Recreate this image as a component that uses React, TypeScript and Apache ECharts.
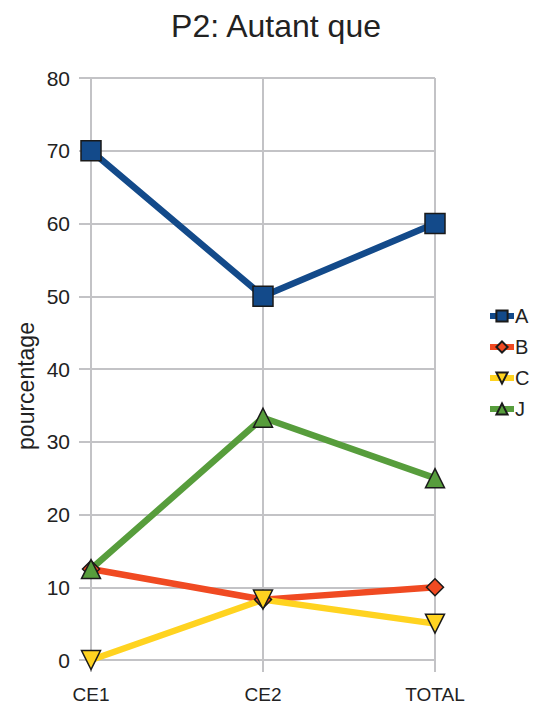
import React, { useEffect, useRef } from "react";
import * as echarts from "echarts";

const categories = ["CE1", "CE2", "TOTAL"];
const seriesA = [70, 50, 60];
const seriesB = [12.5, 8.3, 10];
const seriesC = [0, 8.3, 5];
const seriesJ = [12.5, 33.3, 25];
const yTicks = { min: 0, max: 80, interval: 10 };

const FONT = "Liberation Sans, Arial, sans-serif";
const GRID_COLOR = "#c3c3c6";

export default function App() {
  const ref = useRef<HTMLDivElement>(null);
  useEffect(() => {
    if (!ref.current) return;
    const chart = echarts.init(ref.current, null, { renderer: "svg" });
    const mk = (name: string, data: number[], color: string, symbol: string, size: number, rotate = 0) => ({
      name,
      type: "line",
      data,
      symbol,
      symbolSize: size,
      symbolRotate: rotate,
      lineStyle: { color, width: 6.5 },
      itemStyle: { color, borderColor: "#1a1a1a", borderWidth: 1.5 },
      z: 3,
    });
    chart.setOption({
      animation: false,
      backgroundColor: "#ffffff",
      textStyle: { fontFamily: FONT },
      grid: { left: 91, right: 104, top: 78, bottom: 51 },
      graphic: [
        {
          type: "text",
          x: 276,
          y: 10,
          style: {
            text: "P2: Autant que",
            fontSize: 32,
            fontFamily: FONT,
            fill: "#222",
            textAlign: "center",
            textVerticalAlign: "top",
          },
        },
        {
          type: "text",
          x: 26,
          y: 386,
          rotation: Math.PI / 2,
          style: {
            text: "pourcentage",
            fontSize: 23,
            fontFamily: FONT,
            fill: "#222",
            textAlign: "center",
            textVerticalAlign: "middle",
          },
        },
      ],
      legend: {
        orient: "vertical",
        left: 482,
        top: 301,
        itemWidth: 24,
        itemHeight: 14,
        itemGap: 11,
        lineStyle: { width: 6 },
        textStyle: { fontSize: 20, fontFamily: FONT, color: "#222", padding: [0, 0, 0, -4] },
        data: ["A", "B", "C", "J"],
      },
      xAxis: {
        type: "category",
        data: categories,
        boundaryGap: false,
        axisLine: { lineStyle: { color: GRID_COLOR, width: 2 } },
        axisTick: { show: true, length: 12, inside: false, lineStyle: { color: GRID_COLOR, width: 2 } },
        splitLine: { show: true, lineStyle: { color: GRID_COLOR, width: 2 } },
        axisLabel: { fontSize: 19, color: "#222", margin: 25, fontFamily: FONT },
      },
      yAxis: {
        type: "value",
        min: yTicks.min,
        max: yTicks.max,
        interval: yTicks.interval,
        axisLine: { show: true, lineStyle: { color: GRID_COLOR, width: 2 } },
        axisTick: { show: true, length: 12, lineStyle: { color: GRID_COLOR, width: 2 } },
        splitLine: { show: true, lineStyle: { color: GRID_COLOR, width: 2 } },
        axisLabel: { fontSize: 21, color: "#222", margin: 21, fontFamily: FONT },
      },
      series: [
        mk("A", seriesA, "#134a8a", "rect", 20),
        mk("B", seriesB, "#f04a22", "diamond", 17),
        mk("C", seriesC, "#ffd320", "triangle", 19, 180),
        mk("J", seriesJ, "#579d3c", "triangle", 19),
      ],
    });
    return () => chart.dispose();
  }, []);
  return (
    <div
      ref={ref}
      style={{ position: "fixed", left: 0, top: 0, width: 539, height: 711 }}
    />
  );
}
